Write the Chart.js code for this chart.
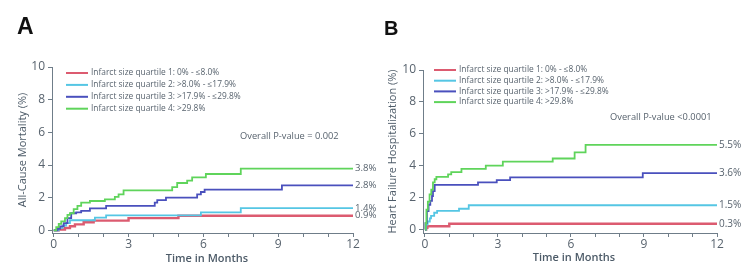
<!DOCTYPE html>
<html>
<head>
<meta charset="utf-8">
<script src="https://cdn.jsdelivr.net/npm/chart.js@4.4.1/dist/chart.umd.min.js"></script>
<style>
  body { margin: 0; background: #fff; }
  #wrap { position: relative; width: 748px; height: 265px; overflow: hidden; }
  .panel { position: absolute; top: 0; height: 265px; }
  .tag { position: absolute; font-family: "Liberation Sans", Arial, sans-serif; font-weight: bold; color: #111; }
</style>
</head>
<body>
<div id="wrap">
  <div class="panel" style="left:374px;width:374px"><canvas id="chartB" width="374" height="265"></canvas></div>
  <div class="panel" style="left:0;width:380px"><canvas id="chartA" width="380" height="265"></canvas></div>
  <div class="tag" style="left:17px;top:15px;font-size:23px;line-height:23px">A</div>
  <div class="tag" style="left:384px;top:18px;font-size:20px;line-height:20px">B</div>
</div>
<script>
// --- DATA ---
const quartileLabels = [
  'Infarct size quartile 1: 0% - ≤8.0%',
  'Infarct size quartile 2: >8.0% - ≤17.9%',
  'Infarct size quartile 3: >17.9% - ≤29.8%',
  'Infarct size quartile 4: >29.8%'
];
const xTicks = [0, 1, 2, 3, 4, 5, 6, 7, 8, 9, 10, 11, 12];
const yTicks = [0, 2, 4, 6, 8, 10];

// Panel A - all-cause mortality (%)
const monthsA_q1 = [0, 0.2, 0.45, 0.65, 0.85, 1.2, 1.6, 3.0, 5.0, 12];
const rateA_q1 = [0, 0.05, 0.15, 0.25, 0.37, 0.5, 0.6, 0.75, 0.9, 0.9];
const monthsA_q2 = [0, 0.2, 0.35, 0.5, 0.65, 1.65, 2.1, 5.9, 7.5, 12];
const rateA_q2 = [0, 0.15, 0.3, 0.45, 0.62, 0.78, 0.92, 1.1, 1.36, 1.36];
const monthsA_q3 = [0, 0.15, 0.25, 0.4, 0.55, 0.7, 0.9, 1.1, 1.45, 2.1, 4.05, 4.15, 4.5, 5.75, 5.9, 6.05, 9.15, 12];
const rateA_q3 = [0, 0.1, 0.25, 0.45, 0.75, 1.05, 1.1, 1.2, 1.35, 1.5, 1.7, 1.85, 2.0, 2.2, 2.35, 2.5, 2.76, 2.76];
const monthsA_q4 = [0, 0.1, 0.2, 0.3, 0.45, 0.55, 0.65, 0.8, 0.95, 1.1, 1.45, 2.05, 2.45, 2.6, 2.8, 4.75, 4.95, 5.35, 5.55, 6.1, 7.5, 12];
const rateA_q4 = [0, 0.2, 0.4, 0.55, 0.75, 0.95, 1.05, 1.3, 1.5, 1.7, 1.8, 1.9, 2.05, 2.2, 2.45, 2.65, 2.9, 3.05, 3.25, 3.45, 3.78, 3.78];
const endLabelsA = ['0.9%', '1.4%', '2.8%', '3.8%'];

// Panel B - heart failure hospitalization (%)
const monthsB_q1 = [0, 0.05, 0.1, 1.0, 12];
const rateB_q1 = [0, 0.1, 0.2, 0.36, 0.36];
const monthsB_q2 = [0, 0.05, 0.11, 0.2, 0.25, 0.38, 0.5, 1.4, 1.8, 12];
const rateB_q2 = [0, 0.3, 0.5, 0.7, 0.85, 1.05, 1.17, 1.3, 1.52, 1.52];
const monthsB_q3 = [0, 0.02, 0.08, 0.15, 0.22, 0.29, 0.33, 0.4, 2.18, 2.95, 3.5, 8.95, 12];
const rateB_q3 = [0, 0.4, 1.15, 1.55, 1.8, 2.1, 2.4, 2.8, 2.95, 3.1, 3.27, 3.54, 3.54];
const monthsB_q4 = [0, 0.03, 0.06, 0.12, 0.19, 0.26, 0.33, 0.4, 0.47, 0.95, 1.08, 1.5, 2.5, 3.2, 5.25, 6.15, 6.6, 12];
const rateB_q4 = [0, 0.4, 1.25, 1.75, 2.2, 2.5, 2.95, 3.15, 3.3, 3.45, 3.6, 3.8, 4.0, 4.25, 4.45, 4.83, 5.31, 5.31];
const endLabelsB = ['0.3%', '1.5%', '3.6%', '5.5%'];

// --- STYLE ---
const COLORS = ['#dc5b70', '#55c6e4', '#4a50bd', '#5fd45b'];
const AXIS = '#6f7d89';
const TEXT = '#58636e';
const FONT = '"Open Sans", sans-serif';

const toPoints = (xs, ys) => xs.map((x, i) => ({ x: x, y: ys[i] }));

// --- PLUGIN: legend, end labels, p-value, axis titles ---
const overlay = {
  id: 'overlay',
  afterDatasetsDraw(chart, args, o) {
    const { ctx, chartArea, scales: { x, y } } = chart;
    ctx.save();
    ctx.textBaseline = 'middle';
    ctx.textAlign = 'left';

    ctx.font = '8.4px ' + FONT;
    chart.data.datasets.forEach((ds, i) => {
      const ly = o.legendY + i * o.legendRow;
      ctx.strokeStyle = ds.borderColor;
      ctx.lineWidth = 2;
      ctx.beginPath();
      ctx.moveTo(o.legendX, ly);
      ctx.lineTo(o.legendX + 22, ly);
      ctx.stroke();
      ctx.fillStyle = TEXT;
      ctx.fillText(ds.label, o.legendX + 25, ly);
    });

    ctx.font = o.labelSize + 'px ' + FONT;
    ctx.fillStyle = TEXT;
    chart.data.datasets.forEach((ds, i) => {
      const last = ds.data[ds.data.length - 1];
      ctx.fillText(o.endLabels[i], x.getPixelForValue(last.x) + 2, y.getPixelForValue(last.y));
    });

    ctx.font = '9.3px ' + FONT;
    ctx.fillText(o.pText, o.pX, o.pY);

    // x title
    ctx.font = '600 11px ' + FONT;
    ctx.fillStyle = '#4d5b68';
    ctx.textAlign = 'center';
    ctx.fillText('Time in Months', o.xTitleX, o.xTitleY);

    // y title
    ctx.font = '11px ' + FONT;
    ctx.translate(o.yTitleX, (chartArea.top + chartArea.bottom) / 2);
    ctx.rotate(-Math.PI / 2);
    ctx.fillText(o.yTitle, 0, 0);
    ctx.restore();
  }
};

// --- CHART BUILDER ---
function buildChart(canvasId, series, opts) {
  const ctx = document.getElementById(canvasId).getContext('2d');
  return new Chart(ctx, {
    type: 'line',
    data: {
      datasets: series.map((s, i) => ({
        label: quartileLabels[i],
        data: toPoints(s[0], s[1]),
        borderColor: COLORS[i],
        borderWidth: i === 0 ? 2.4 : 1.8,
        stepped: 'before',
        pointRadius: 0,
        fill: false,
        order: 4 - i
      }))
    },
    options: {
      responsive: false,
      animation: false,
      layout: { padding: { left: 0, right: opts.rightPad, top: opts.top, bottom: 0 } },
      plugins: {
        legend: { display: false },
        tooltip: { enabled: false },
        overlay: opts.overlay
      },
      scales: {
        x: {
          type: 'linear',
          min: opts.xMin,
          max: 12,
          afterBuildTicks: (s) => { s.ticks = xTicks.map(v => ({ value: v })); },
          afterFit: (s) => { s.height = opts.xHeight; },
          border: { display: true, color: AXIS, width: 1 },
          grid: { drawOnChartArea: false, drawTicks: true, tickLength: 4, color: AXIS },
          ticks: {
            padding: 0,
            color: TEXT,
            font: { family: FONT, size: 12 },
            maxRotation: 0,
            autoSkip: false,
            callback: (v) => (v % 3 === 0 ? v : '')
          }
        },
        y: {
          min: opts.yMin,
          max: 10,
          afterBuildTicks: (s) => { s.ticks = yTicks.map(v => ({ value: v })); },
          afterFit: (s) => { s.width = opts.yWidth; },
          border: { display: true, color: AXIS, width: 1 },
          grid: { drawOnChartArea: false, drawTicks: true, tickLength: 4, color: AXIS },
          ticks: {
            padding: 3,
            color: TEXT,
            font: { family: FONT, size: 12 }
          }
        }
      }
    },
    plugins: [overlay]
  });
}

buildChart('chartA', [
  [monthsA_q1, rateA_q1], [monthsA_q2, rateA_q2], [monthsA_q3, rateA_q3], [monthsA_q4, rateA_q4]
], {
  xMin: -0.07, yMin: -0.16, yWidth: 52, xHeight: 32, rightPad: 27, top: 67,
  overlay: {
    legendX: 66, legendY: 73, legendRow: 11.9,
    endLabels: endLabelsA, labelSize: 9.6,
    pText: 'Overall P-value = 0.002', pX: 240, pY: 136,
    xTitleX: 207, xTitleY: 259,
    yTitle: 'All-Cause Mortality (%)', yTitleX: 23
  }
});

buildChart('chartB', [
  [monthsB_q1, rateB_q1], [monthsB_q2, rateB_q2], [monthsB_q3, rateB_q3], [monthsB_q4, rateB_q4]
], {
  xMin: -0.08, yMin: -0.22, yWidth: 49, xHeight: 32, rightPad: 31, top: 70,
  overlay: {
    legendX: 60, legendY: 70, legendRow: 10.7,
    endLabels: endLabelsB, labelSize: 10,
    pText: 'Overall P-value <0.0001', pX: 236, pY: 117,
    xTitleX: 200, xTitleY: 258,
    yTitle: 'Heart Failure Hospitalization (%)', yTitleX: 19
  }
});
</script>
</body>
</html>
